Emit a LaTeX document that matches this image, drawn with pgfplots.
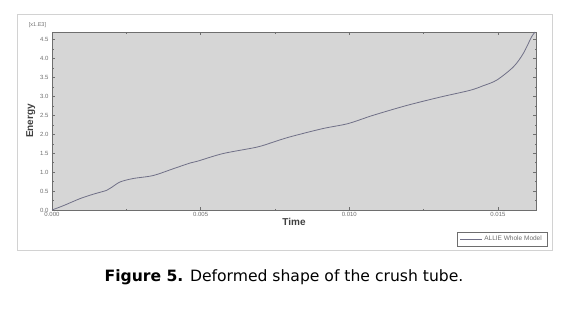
\documentclass[border=0pt]{standalone}
\usepackage{fontspec}
\setmainfont{Liberation Sans}
\newfontfamily\capfont{DejaVu Sans}
\usepackage{pgfplots}
\pgfplotsset{compat=1.18}
\definecolor{axbg}{RGB}{214,214,214}
\definecolor{crv}{RGB}{112,112,135}
\definecolor{frm}{RGB}{210,210,210}
\definecolor{tk}{RGB}{110,110,110}
\begin{document}
\begin{tikzpicture}[x=1pt,y=1pt]
\useasboundingbox (0,0) rectangle (569,322);
\draw[frm, line width=1pt] (17,72) rectangle (552,307);
\begin{axis}[
  at={(52pt,112pt)}, anchor=south west,
  scale only axis, width=484pt, height=178pt,
  xmin=0, xmax=0.01628, ymin=0, ymax=4.70,
  scaled x ticks=false, scaled y ticks=false,
  axis background/.style={fill=axbg},
  axis line style={tk, line width=0.6pt},
  xtick={0,0.005,0.010,0.015},
  ytick={0,0.5,1.0,1.5,2.0,2.5,3.0,3.5,4.0,4.5},
  minor x tick num=1, minor y tick num=1,
  xtick pos=both, ytick pos=both,
  tick style={tk, line width=0.4pt},
  major tick length=3pt, minor tick length=1.5pt,
  xticklabels={0.000,0.005,0.010,0.015},
  yticklabels={0.0,0.5,1.0,1.5,2.0,2.5,3.0,3.5,4.0,4.5},
  tick label style={font=\fontsize{6}{7}\selectfont, text=tk},
  xticklabel style={yshift=1pt},
  xlabel={\textbf{Time}}, ylabel={\textbf{Energy}},
  label style={font=\fontsize{10}{12}\selectfont, text=black!75},
  xlabel style={yshift=5pt},
  ylabel style={yshift=-2pt},
  legend style={at={(1.0227,-0.1236)}, anchor=north east, draw=tk,
    font=\fontsize{6.5}{8}\selectfont, text=tk, inner xsep=3pt, inner ysep=2pt},
  legend cell align=left,
  legend image code/.code={\draw[crv, line width=0.5pt] (0pt,0pt) -- (22pt,0pt);},
  clip=false,
]
\addplot[crv, line width=0.8pt, smooth] coordinates {
(0,0) (0.00040,0.12) (0.00094,0.30) (0.00140,0.42) (0.00184,0.52) (0.00201,0.60)
(0.00229,0.74) (0.00272,0.83) (0.00340,0.91) (0.00408,1.09) (0.00464,1.24)
(0.00490,1.29) (0.00575,1.49) (0.00689,1.66) (0.00743,1.79) (0.00800,1.93)
(0.00911,2.15) (0.00995,2.28) (0.01080,2.50) (0.01193,2.76) (0.01305,2.98)
(0.01406,3.16) (0.01450,3.28) (0.01496,3.43) (0.01552,3.78) (0.01585,4.13)
(0.01613,4.57) (0.01625,4.70)
};
\addlegendentry{ALLIE Whole Model}
\node[anchor=south east, font=\fontsize{5.5}{6}\selectfont, text=tk] at (rel axis cs:-0.005,1.005) {[x1.E3]};
\end{axis}
\node at (284,45) {\capfont\fontsize{15.6}{18}\selectfont\textbf{Figure 5.} Deformed shape of the crush tube.};
\end{tikzpicture}
\end{document}
